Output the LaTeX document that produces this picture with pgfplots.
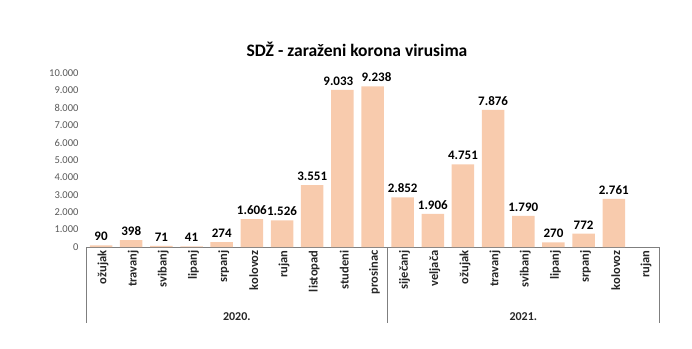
\documentclass[border=0pt]{standalone}
\usepackage{pgfplots}
\usepackage{pgfplotstable}
\pgfplotsset{compat=1.18}
\usepackage{fontspec}
\setmainfont{Carlito}
\definecolor{barcol}{HTML}{F8CBAD}
\definecolor{tickgray}{HTML}{595959}
\definecolor{axgray}{HTML}{7F7F7F}
\pgfplotstableread{
x y dx
0 90 0
1 398 0
2 71 0
3 41 0
4 274 0
5 1606 0
6 1526 0
7 3551 0
8 9033 -4
9 9238 4
10 2852 0
11 1906 0
12 4751 0
13 7876 0
14 1790 0
15 270 0
16 772 0
17 2761 0
}\datatab
\begin{document}
\begin{tikzpicture}[x=1pt,y=1pt]
\path[use as bounding box] (0,0) rectangle (692,348);
\node[font=\bfseries\fontsize{17.5}{20}\selectfont] at (357,299) {SDŽ - zaraženi korona virusima};
\begin{axis}[
  at={(86pt,101pt)}, anchor=south west,
  scale only axis, width=573pt, height=174pt,
  xmin=-0.5, xmax=18.5, ymin=0, ymax=10000,
  axis x line*=bottom, axis y line*=left,
  y axis line style={draw=none},
  x axis line style={draw=axgray, line width=0.8pt},
  major tick length=0pt,
  xtick={0,...,18},
  xticklabels={ožujak,travanj,svibanj,lipanj,srpanj,kolovoz,rujan,listopad,studeni,prosinac,siječanj,veljača,ožujak,travanj,svibanj,lipanj,srpanj,kolovoz,rujan},
  xticklabel style={rotate=90, anchor=east, font=\bfseries\fontsize{12.5}{14}\selectfont, yshift=-2pt, text=black!85},
  ytick={0,1000,...,10000},
  yticklabel style={font=\fontsize{10.5}{12}\selectfont, text=tickgray, xshift=-4pt},
  /pgf/number format/.cd, 1000 sep={.}, assume math mode=true,
  /pgfplots/.cd,
  scaled y ticks=false,
  clip=false,
]
\addplot[ybar, bar width=22.5pt, fill=barcol, draw=none,
  visualization depends on={\thisrow{dx} \as \dx},
  nodes near coords,
  nodes near coords style={font=\bfseries\fontsize{13}{15}\selectfont, text=black, anchor=south, yshift=1pt, xshift=\dx pt},
] table[x=x, y=y] {\datatab};
\draw[axgray, line width=0.8pt] (axis cs:-0.5,0) -- ++(0pt,-76pt);
\draw[axgray, line width=0.8pt] (axis cs:9.5,0) -- ++(0pt,-76pt);
\draw[axgray, line width=0.8pt] (axis cs:18.5,0) -- ++(0pt,-76pt);
\node[font=\bfseries\fontsize{12}{14}\selectfont, text=black!85] at ([yshift=-70pt]axis cs:4.5,0) {2020.};
\node[font=\bfseries\fontsize{12}{14}\selectfont, text=black!85] at ([yshift=-70pt]axis cs:14,0) {2021.};
\end{axis}
\end{tikzpicture}
\end{document}
